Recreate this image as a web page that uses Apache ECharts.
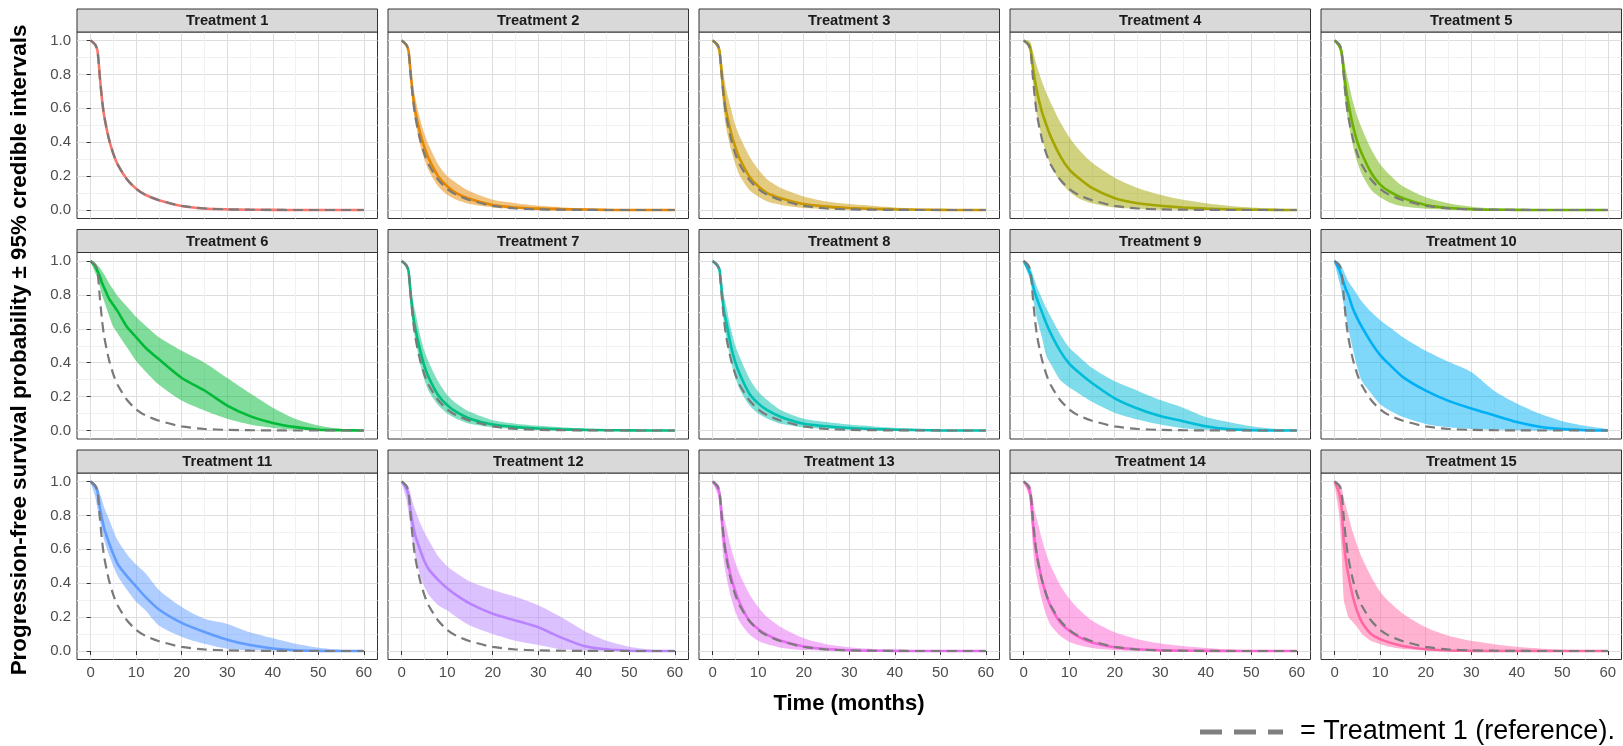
<!DOCTYPE html>
<html><head><meta charset="utf-8">
<script src="https://cdn.jsdelivr.net/npm/echarts@6/dist/echarts.min.js"></script>
<style>html,body{margin:0;padding:0;background:#fff}#c{width:1623px;height:746px}</style>
</head><body><div id="c"></div>
<script>
// ---------------- DATA ----------------
const TIME = [0,1,1.5,2,2.5,3,4,5,6,8,10,12,15,20,25,30,35,40,45,50,55,60];
const xTicks = [0,10,20,30,40,50,60];
const xMinor = [5,15,25,35,45,55];
const yTicks = [0,0.2,0.4,0.6,0.8,1.0];
const yMinor = [0.1,0.3,0.5,0.7,0.9];
const treatmentNames = ['Treatment 1','Treatment 2','Treatment 3','Treatment 4','Treatment 5','Treatment 6','Treatment 7','Treatment 8','Treatment 9','Treatment 10','Treatment 11','Treatment 12','Treatment 13','Treatment 14','Treatment 15'];
const treatmentColors = ['#F8766D','#E58700','#C99800','#A3A500','#6BB100','#00BA38','#00BF7D','#00C0AF','#00BCD8','#00B0F6','#619CFF','#B983FF','#E76BF3','#FD61D1','#FF67A4'];

// Treatment 1 (reference) median
const reference = [1,0.975,0.94,0.79,0.65,0.55,0.42,0.33,0.265,0.18,0.125,0.09,0.058,0.024,0.009,0.004,0.002,0.001,0,0,0,0];

const t1_med = reference;
const t1_lo  = reference;
const t1_up  = reference;

const t2_med = [1,0.975,0.94,0.8,0.67,0.58,0.46,0.37,0.3,0.2,0.14,0.1,0.065,0.03,0.015,0.008,0.005,0.003,0.001,0,0,0];
const t2_lo  = [1,0.965,0.92,0.75,0.61,0.52,0.39,0.3,0.23,0.14,0.09,0.06,0.035,0.015,0.006,0.002,0.001,0,0,0,0,0];
const t2_up  = [1,0.985,0.96,0.85,0.74,0.66,0.54,0.45,0.38,0.27,0.2,0.16,0.11,0.06,0.04,0.025,0.017,0.01,0.007,0.004,0.002,0.001];

const t3_med = [1,0.975,0.94,0.8,0.67,0.58,0.46,0.37,0.3,0.2,0.14,0.1,0.07,0.035,0.02,0.012,0.007,0.004,0.002,0.001,0,0];
const t3_lo  = [1,0.955,0.9,0.7,0.57,0.48,0.36,0.27,0.2,0.12,0.08,0.05,0.03,0.012,0.005,0.002,0.001,0,0,0,0,0];
const t3_up  = [1,0.99,0.97,0.88,0.79,0.71,0.6,0.5,0.43,0.32,0.24,0.18,0.13,0.08,0.05,0.035,0.025,0.015,0.009,0.005,0.002,0.001];

const t4_med = [1,0.98,0.95,0.85,0.76,0.69,0.58,0.5,0.43,0.32,0.24,0.19,0.13,0.07,0.04,0.025,0.015,0.008,0.004,0.002,0.001,0];
const t4_lo  = [1,0.96,0.91,0.76,0.63,0.55,0.43,0.33,0.26,0.17,0.11,0.07,0.04,0.015,0.006,0.002,0.001,0,0,0,0,0];
const t4_up  = [1,1,0.99,0.94,0.89,0.84,0.76,0.69,0.63,0.52,0.43,0.36,0.28,0.19,0.13,0.09,0.06,0.04,0.025,0.015,0.007,0.003];

const t5_med = [1,0.97,0.93,0.82,0.71,0.63,0.5,0.4,0.33,0.22,0.15,0.11,0.07,0.03,0.012,0.005,0.002,0.001,0,0,0,0];
const t5_lo  = [1,0.95,0.9,0.72,0.6,0.52,0.38,0.28,0.21,0.12,0.075,0.045,0.022,0.007,0.002,0,0,0,0,0,0,0];
const t5_up  = [1,0.99,0.97,0.9,0.82,0.76,0.64,0.55,0.48,0.36,0.27,0.21,0.14,0.075,0.04,0.02,0.01,0.005,0.002,0.001,0,0];

const t6_med = [1,0.97,0.94,0.91,0.87,0.84,0.78,0.74,0.7,0.61,0.55,0.49,0.42,0.31,0.236,0.147,0.085,0.045,0.02,0.005,0.002,0];
const t6_lo  = [1,0.93,0.9,0.85,0.8,0.76,0.68,0.61,0.57,0.49,0.41,0.35,0.27,0.177,0.118,0.069,0.035,0.015,0.004,0.001,0,0];
const t6_up  = [1,0.99,0.975,0.96,0.94,0.92,0.87,0.83,0.79,0.73,0.67,0.62,0.55,0.47,0.4,0.31,0.22,0.135,0.068,0.03,0.01,0.002];

const t7_med = [1,0.975,0.94,0.8,0.68,0.6,0.48,0.38,0.31,0.21,0.15,0.11,0.07,0.035,0.02,0.012,0.007,0.004,0.002,0.001,0,0];
const t7_lo  = [1,0.96,0.92,0.74,0.62,0.54,0.4,0.3,0.23,0.15,0.1,0.07,0.04,0.018,0.009,0.004,0.002,0.001,0,0,0,0];
const t7_up  = [1,0.985,0.96,0.86,0.76,0.7,0.57,0.47,0.4,0.29,0.21,0.16,0.11,0.06,0.04,0.028,0.02,0.012,0.007,0.004,0.002,0.001];

const t8_med = [1,0.975,0.95,0.82,0.7,0.64,0.5,0.4,0.33,0.22,0.16,0.12,0.08,0.04,0.025,0.015,0.009,0.005,0.003,0.001,0,0];
const t8_lo  = [1,0.96,0.92,0.75,0.63,0.55,0.41,0.31,0.24,0.15,0.1,0.07,0.04,0.018,0.009,0.004,0.002,0.001,0,0,0,0];
const t8_up  = [1,0.99,0.97,0.88,0.79,0.73,0.6,0.5,0.43,0.31,0.23,0.18,0.12,0.07,0.05,0.035,0.025,0.015,0.009,0.005,0.002,0.001];

const t9_med = [1,0.95,0.92,0.86,0.81,0.77,0.7,0.63,0.57,0.47,0.395,0.345,0.28,0.19,0.13,0.085,0.055,0.025,0.008,0.002,0,0];
const t9_lo  = [1,0.92,0.88,0.78,0.72,0.65,0.55,0.44,0.39,0.3,0.255,0.22,0.17,0.105,0.065,0.035,0.014,0.004,0.001,0,0,0];
const t9_up  = [1,0.985,0.96,0.92,0.88,0.84,0.78,0.72,0.67,0.57,0.49,0.44,0.37,0.29,0.235,0.18,0.135,0.08,0.05,0.025,0.01,0.002];

const t10_med = [1,0.95,0.91,0.87,0.83,0.8,0.72,0.66,0.61,0.52,0.445,0.39,0.315,0.235,0.175,0.13,0.09,0.05,0.022,0.008,0.002,0];
const t10_lo  = [1,0.88,0.82,0.74,0.67,0.6,0.48,0.37,0.29,0.22,0.155,0.12,0.08,0.039,0.019,0.009,0.004,0.001,0,0,0,0];
const t10_up  = [1,0.99,0.97,0.94,0.91,0.88,0.84,0.8,0.76,0.7,0.65,0.61,0.55,0.47,0.405,0.345,0.235,0.16,0.1,0.055,0.028,0.008];

const t11_med = [1,0.97,0.94,0.85,0.78,0.72,0.64,0.57,0.51,0.44,0.38,0.32,0.245,0.166,0.112,0.067,0.035,0.015,0.004,0.001,0,0];
const t11_lo  = [1,0.91,0.84,0.77,0.71,0.65,0.57,0.5,0.44,0.36,0.29,0.24,0.15,0.083,0.043,0.014,0.004,0.001,0,0,0,0];
const t11_up  = [1,0.985,0.97,0.93,0.89,0.845,0.78,0.71,0.65,0.57,0.51,0.46,0.36,0.26,0.19,0.16,0.11,0.075,0.043,0.02,0.008,0.002];

const t12_med = [1,0.96,0.92,0.82,0.74,0.68,0.6,0.53,0.48,0.42,0.37,0.33,0.28,0.22,0.18,0.14,0.08,0.03,0.01,0.002,0,0];
const t12_lo  = [1,0.9,0.82,0.72,0.63,0.56,0.45,0.38,0.33,0.27,0.24,0.2,0.15,0.1,0.06,0.035,0.01,0.002,0,0,0,0];
const t12_up  = [1,0.985,0.97,0.92,0.87,0.83,0.76,0.7,0.65,0.56,0.5,0.46,0.41,0.36,0.32,0.27,0.2,0.12,0.06,0.025,0.008,0.002];

const t13_med = [1,0.965,0.93,0.78,0.65,0.57,0.44,0.35,0.28,0.18,0.13,0.095,0.06,0.027,0.012,0.005,0.002,0.001,0,0,0,0];
const t13_lo  = [1,0.93,0.87,0.65,0.52,0.44,0.32,0.23,0.17,0.1,0.06,0.04,0.02,0.006,0.002,0,0,0,0,0,0,0];
const t13_up  = [1,0.99,0.97,0.88,0.79,0.73,0.61,0.52,0.45,0.34,0.26,0.2,0.14,0.075,0.04,0.022,0.012,0.006,0.003,0.001,0,0];

const t14_med = [1,0.965,0.92,0.76,0.63,0.55,0.42,0.33,0.26,0.17,0.12,0.085,0.05,0.022,0.01,0.004,0.002,0.001,0,0,0,0];
const t14_lo  = [1,0.93,0.85,0.62,0.49,0.42,0.3,0.21,0.15,0.09,0.055,0.035,0.018,0.005,0.001,0,0,0,0,0,0,0];
const t14_up  = [1,0.99,0.975,0.9,0.82,0.77,0.66,0.57,0.5,0.39,0.31,0.25,0.18,0.11,0.07,0.045,0.03,0.018,0.01,0.004,0.001,0];

const t15_med = [1,0.93,0.85,0.65,0.53,0.45,0.32,0.23,0.17,0.1,0.07,0.05,0.03,0.01,0.003,0.001,0,0,0,0,0,0];
const t15_lo  = [1,0.8,0.6,0.3,0.25,0.2,0.17,0.14,0.1,0.06,0.04,0.025,0.012,0.004,0.001,0,0,0,0,0,0,0];
const t15_up  = [1,0.99,0.97,0.9,0.85,0.8,0.7,0.62,0.55,0.44,0.35,0.29,0.22,0.14,0.09,0.06,0.04,0.025,0.015,0.007,0.003,0];

const medians = [t1_med,t2_med,t3_med,t4_med,t5_med,t6_med,t7_med,t8_med,t9_med,t10_med,t11_med,t12_med,t13_med,t14_med,t15_med];
const lowers  = [t1_lo,t2_lo,t3_lo,t4_lo,t5_lo,t6_lo,t7_lo,t8_lo,t9_lo,t10_lo,t11_lo,t12_lo,t13_lo,t14_lo,t15_lo];
const uppers  = [t1_up,t2_up,t3_up,t4_up,t5_up,t6_up,t7_up,t8_up,t9_up,t10_up,t11_up,t12_up,t13_up,t14_up,t15_up];

// ---------------- LAYOUT ----------------
const FONT = '"Liberation Sans", Arial, sans-serif';
const L0 = 77, COLSTEP = 311, PW = 300.5;
const T0 = 9, ROWSTEP = 220.5, STRIP_H = 23, PH = 186.5;
const XMIN = -3, XMAX = 63, YMIN = -0.05, YMAX = 1.05;
const SMOOTH = 0.25;

const grids = [], xAxes = [], yAxes = [], series = [], graphics = [];
const pair = arr => TIME.map((t, k) => [t, arr[k]]);

function bandRenderer(lo, up) {
  return function (params, api) {
    const pts = [];
    for (let k = 0; k < TIME.length; k++) pts.push(api.coord([TIME[k], up[k]]));
    for (let k = TIME.length - 1; k >= 1; k--) {
      if (k === TIME.length - 1 && lo[k] === up[k]) continue;
      pts.push(api.coord([TIME[k], lo[k]]));
    }
    return {type: 'polygon', shape: {points: pts, smooth: SMOOTH},
      style: {fill: api.visual('color'), opacity: 0.5}};
  };
}

for (let i = 0; i < 15; i++) {
  const r = Math.floor(i / 5), c = i % 5;
  const left = L0 + c * COLSTEP;
  const stripTop = T0 + r * ROWSTEP;
  const top = stripTop + STRIP_H;
  grids.push({left, top, width: PW, height: PH, show: true, borderColor: '#333333', borderWidth: 1, backgroundColor: 'transparent', containLabel: false});

  xAxes.push({gridIndex: i, type: 'value', min: XMIN, max: XMAX, position: 'bottom',
    axisLine: {show: false},
    axisTick: {show: r === 2, length: 4, lineStyle: {color: '#333333', width: 1}, customValues: xTicks},
    axisLabel: {show: r === 2, customValues: xTicks, color: '#4D4D4D', fontSize: 15, fontFamily: FONT, margin: 6},
    splitLine: {show: true, lineStyle: {color: '#DEDEDE', width: 1}}});
  xAxes.push({gridIndex: i, type: 'value', min: XMIN, max: XMAX, position: 'top',
    axisLine: {show: false},
    axisTick: {show: false, customValues: xMinor},
    axisLabel: {show: false, customValues: xMinor},
    splitLine: {show: true, lineStyle: {color: '#F1F1F1', width: 1}}});
  yAxes.push({gridIndex: i, type: 'value', min: YMIN, max: YMAX, position: 'left',
    axisLine: {show: false},
    axisTick: {show: c === 0, length: 4, lineStyle: {color: '#333333', width: 1}, customValues: yTicks},
    axisLabel: {show: c === 0, customValues: yTicks, color: '#4D4D4D', fontSize: 15, fontFamily: FONT, margin: 6,
      formatter: v => Number(v).toFixed(1)},
    splitLine: {show: true, lineStyle: {color: '#DEDEDE', width: 1}}});
  yAxes.push({gridIndex: i, type: 'value', min: YMIN, max: YMAX, position: 'right',
    axisLine: {show: false},
    axisTick: {show: false, customValues: yMinor},
    axisLabel: {show: false, customValues: yMinor},
    splitLine: {show: true, lineStyle: {color: '#F1F1F1', width: 1}}});

  const col = treatmentColors[i];
  const common = {xAxisIndex: 2 * i, yAxisIndex: 2 * i, silent: true, animation: false};
  series.push(Object.assign({type: 'custom', name: 'ci' + i, data: [[0, 0]], itemStyle: {color: col},
    renderItem: bandRenderer(lowers[i], uppers[i]), clip: true, z: 2}, common));
  series.push(Object.assign({type: 'line', name: treatmentNames[i], data: pair(medians[i]), symbol: 'none', showSymbol: false,
    smooth: SMOOTH, lineStyle: {color: col, width: 2.6}, z: 3}, common));
  series.push(Object.assign({type: 'line', name: 'ref' + i, data: pair(reference), symbol: 'none', showSymbol: false,
    smooth: SMOOTH, lineStyle: {color: '#7A7A7A', width: 2.2, type: [10, 6]}, z: 4}, common));

  // strip
  graphics.push({type: 'rect', shape: {x: left, y: stripTop, width: PW, height: STRIP_H},
    style: {fill: '#D9D9D9', stroke: '#333333', lineWidth: 1}, z: 10});
  graphics.push({type: 'text', x: left + PW / 2, y: stripTop + STRIP_H / 2 + 0.5,
    style: {text: treatmentNames[i], font: 'bold 14.7px ' + FONT, fill: '#1A1A1A', textAlign: 'center', textVerticalAlign: 'middle'}, z: 11});
}

// axis titles
graphics.push({type: 'text', x: 849, y: 704,
  style: {text: 'Time (months)', font: 'bold 22px ' + FONT, fill: '#000', textAlign: 'center', textVerticalAlign: 'middle'}, z: 11});
graphics.push({type: 'text', x: 20, y: 350, rotation: Math.PI / 2,
  style: {text: 'Progression-free survival probability \u00b1 95% credible intervals', font: 'bold 22.4px ' + FONT, fill: '#000', textAlign: 'center', textVerticalAlign: 'middle'}, z: 11});
// caption legend
graphics.push({type: 'line', shape: {x1: 1200, y1: 732, x2: 1283, y2: 732},
  style: {stroke: '#7F7F7F', lineWidth: 5, lineDash: [22, 12]}, z: 11});
graphics.push({type: 'text', x: 1300, y: 732,
  style: {text: '= Treatment 1 (reference).', font: '27px ' + FONT, fill: '#000', textAlign: 'left', textVerticalAlign: 'middle'}, z: 11});

const chart = echarts.init(document.getElementById('c'), null, {renderer: 'canvas'});
chart.setOption({
  animation: false,
  backgroundColor: '#ffffff',
  grid: grids, xAxis: xAxes, yAxis: yAxes, series,
  graphic: graphics
});
</script></body></html>
